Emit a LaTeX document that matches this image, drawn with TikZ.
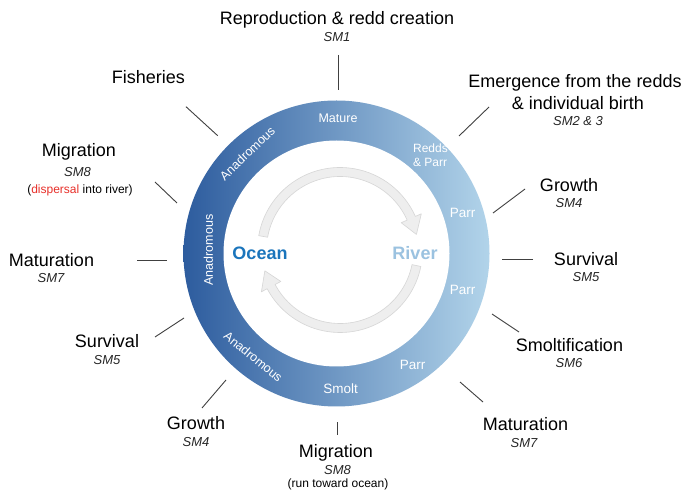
\documentclass[tikz,border=0pt]{standalone}
\usepackage{fontspec}
\setmainfont{Liberation Sans}
\definecolor{ringdark}{HTML}{2D5C9E}
\definecolor{ringmid}{HTML}{5E9ACF}
\definecolor{ringlight}{HTML}{B2D4EA}
\definecolor{oceanblue}{HTML}{1B75BC}
\definecolor{riverblue}{HTML}{9BC2E0}
\definecolor{arrowfill}{HTML}{EEEEEE}
\definecolor{arrowline}{HTML}{D6D6D6}
\definecolor{redtxt}{HTML}{E8302A}
\begin{document}
\begin{tikzpicture}[x=1pt,y=1pt,
  ttl/.style={font=\fontsize{18}{20}\selectfont, anchor=base, inner sep=0pt},
  smlab/.style={font=\fontsize{13}{15}\selectfont\itshape, anchor=base, inner sep=0pt, text=black!85},
  sublab/.style={font=\fontsize{12}{14}\selectfont, anchor=base, inner sep=0pt},
  tick/.style={draw=black!75, line width=0.9pt},
  ringlab/.style={text=white, font=\fontsize{12.5}{14}\selectfont, inner sep=0pt},
  ringbig/.style={text=white, font=\fontsize{13.5}{15}\selectfont, inner sep=0pt},
  arrowband/.style={fill=arrowfill, draw=arrowline, line width=0.6pt, line join=round},
  place/.style={font=\fontsize{18}{20}\selectfont\bfseries, inner sep=0pt}]
\useasboundingbox (0,0) rectangle (685,495);
\fill[white] (0,0) rectangle (685,495);

% ring
\coordinate (ctr) at (336.5,241.5);
\shade[left color=ringdark, middle color=ringmid, right color=ringlight] (ctr) circle (153);
\fill[white] (ctr) circle (113);

% inner arrows
\coordinate (actr) at (340,245);
\begin{scope}[shift={(actr)}]
\path[arrowband] (170:82.5) arc[start angle=170, end angle=24, radius=82.5]
  -- (24:89) -- (11.5:78) -- (24:67) -- (24:73.5)
  arc[start angle=24, end angle=170, radius=73.5] -- cycle;
\path[arrowband] (-11.5:82.5) arc[start angle=-11.5, end angle=-152, radius=82.5]
  -- (-152:89) -- (-164.5:78) -- (-152:67) -- (-152:73.5)
  arc[start angle=-152, end angle=-11.5, radius=73.5] -- cycle;
\end{scope}

\node[place, text=oceanblue] (ocean) at (260,241.7) {Ocean};
\node[place, text=riverblue] (river) at (415,242.3) {River};

% ring labels
\node[ringlab] (mature) at (338,377) {Mature};
\node[ringlab, align=left, font=\fontsize{12}{14}\selectfont] (redds) at (430.5,340) {Redds\\\& Parr};
\node[ringbig] (parr1) at (462.7,281.7) {Parr};
\node[ringbig] (parr2) at (462.7,205) {Parr};
\node[ringbig] (parr3) at (412.7,130) {Parr};
\node[ringbig] (smolt) at (340.7,106.7) {Smolt};
\node[ringlab, rotate=44] (anad1) at (247.3,341.7) {Anadromous};
\node[ringlab, rotate=90] (anad2) at (208.3,245) {Anadromous};
\node[ringlab, rotate=-39] (anad3) at (253.3,138.3) {Anadromous};

% outer labels
\node[ttl] (t1) at (337,470) {Reproduction \& redd creation};
\node[smlab] (s1) at (337,453) {SM1};
\coordinate (a1) at (338,440); \coordinate (b1) at (338,405);
\draw[tick] (a1) -- (b1);

\node[ttl] (t2) at (575,407) {Emergence from the redds};
\node[ttl] (t2b) at (578,385) {\& individual birth};
\node[smlab] (s2) at (578,369) {SM2 \& 3};
\coordinate (a2) at (489,388); \coordinate (b2) at (459,359);
\draw[tick] (a2) -- (b2);

\node[ttl] (t3) at (569,303) {Growth};
\node[smlab] (s3) at (569,287) {SM4};
\coordinate (a3) at (525,306); \coordinate (b3) at (493,282);
\draw[tick] (a3) -- (b3);

\node[ttl] (t4) at (586,229) {Survival};
\node[smlab] (s4) at (586,213) {SM5};
\coordinate (a4) at (533,236); \coordinate (b4) at (502,236);
\draw[tick] (a4) -- (b4);

\node[ttl] (t5) at (569.5,143) {Smoltification};
\node[smlab] (s5) at (569,127) {SM6};
\coordinate (a5) at (519,163); \coordinate (b5) at (492,181);
\draw[tick] (a5) -- (b5);

\node[ttl] (t6) at (525.5,64) {Maturation};
\node[smlab] (s6) at (524,47) {SM7};
\coordinate (a6) at (483,93); \coordinate (b6) at (460,113);
\draw[tick] (a6) -- (b6);

\node[ttl] (t7) at (336,37) {Migration};
\node[smlab] (s7) at (337.5,20) {SM8};
\node[sublab] (u7) at (338,7) {(run toward ocean)};
\coordinate (a7) at (337.7,60); \coordinate (b7) at (337.7,73.3);
\draw[tick] (a7) -- (b7);

\node[ttl] (t8) at (196,65) {Growth};
\node[smlab] (s8) at (196,48) {SM4};
\coordinate (a8) at (202,87); \coordinate (b8) at (226,115);
\draw[tick] (a8) -- (b8);

\node[ttl] (t9) at (107,147) {Survival};
\node[smlab] (s9) at (107,130) {SM5};
\coordinate (a9) at (155,158); \coordinate (b9) at (184,177);
\draw[tick] (a9) -- (b9);

\node[ttl] (t10) at (51.5,228) {Maturation};
\node[smlab] (s10) at (51,212) {SM7};
\coordinate (a10) at (137,235); \coordinate (b10) at (167,235);
\draw[tick] (a10) -- (b10);

\node[ttl] (t11) at (79,338) {Migration};
\node[smlab] (s11) at (77.5,318) {SM8};
\node[sublab] (u11) at (80,301) {(\textcolor{redtxt}{dispersal} into river)};
\coordinate (a11) at (155,313); \coordinate (b11) at (177,292);
\draw[tick] (a11) -- (b11);

\node[ttl] (t12) at (148.3,411) {Fisheries};
\coordinate (a12) at (186,388.3); \coordinate (b12) at (217.7,359.3);
\draw[tick] (a12) -- (b12);
\end{tikzpicture}
\end{document}
